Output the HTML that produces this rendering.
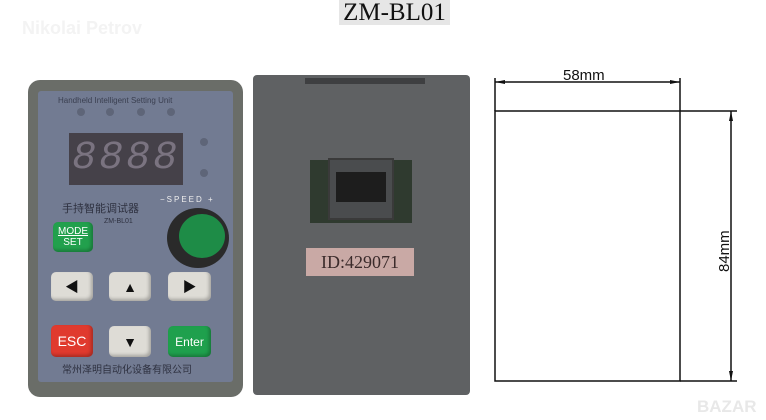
<!DOCTYPE html>
<html><head><style>
*{margin:0;padding:0;box-sizing:border-box}
body{width:766px;height:420px;background:#fff;position:relative;overflow:hidden;font-family:"Liberation Sans","Noto Sans CJK SC",sans-serif}
.a{position:absolute}
.btn{position:absolute;border-radius:5px;background:#dedcd6;box-shadow:inset -2px -2px 3px rgba(0,0,0,.25);display:flex;align-items:center;justify-content:center;font-size:14px;color:#111}
</style></head><body>
<div class="a" style="left:339px;top:0;width:111px;height:25px;background:#e6e6e6;font-family:'Liberation Serif',serif;font-size:25px;line-height:25px;text-align:center;color:#111">ZM-BL01</div>
<div class="a" style="left:22px;top:18px;font-size:18px;font-weight:bold;color:#f3f3f3">Nikolai Petrov</div>

<!-- left device -->
<div class="a" style="left:28px;top:80px;width:215px;height:317px;background:#6a6d68;border-radius:12px"></div>
<div class="a" style="left:38px;top:91px;width:195px;height:291px;background:#727b92;border-radius:3px"></div>
<div class="a" style="left:58px;top:96px;font-size:8px;color:#3a3f50">Handheld Intelligent Setting Unit</div>
<div class="a" style="left:77px;top:108px;width:8px;height:8px;border-radius:50%;background:#5e6578"></div>
<div class="a" style="left:106px;top:108px;width:8px;height:8px;border-radius:50%;background:#5e6578"></div>
<div class="a" style="left:137px;top:108px;width:8px;height:8px;border-radius:50%;background:#5e6578"></div>
<div class="a" style="left:167px;top:108px;width:8px;height:8px;border-radius:50%;background:#5e6578"></div>
<div class="a" style="left:200px;top:138px;width:8px;height:8px;border-radius:50%;background:#5e6578"></div>
<div class="a" style="left:200px;top:169px;width:8px;height:8px;border-radius:50%;background:#5e6578"></div>
<div class="a" style="left:69px;top:133px;width:114px;height:52px;background:#454149;color:#7a7380;font-family:'Liberation Mono',monospace;font-size:40px;line-height:52px;text-align:center;font-style:italic;letter-spacing:3px;overflow:hidden">8888</div>
<div class="a" style="left:62px;top:200px;font-size:11px;color:#2e3140">手持智能调试器</div>
<div class="a" style="left:104px;top:218px;font-size:7px;color:#2e3140">ZM-BL01</div>
<div class="a" style="left:160px;top:195px;font-size:8px;color:#eee;letter-spacing:2px">−SPEED +</div>
<div class="a" style="left:167px;top:208px;width:62px;height:60px;border-radius:50%;background:#2a2a2a"></div>
<div class="a" style="left:179px;top:214px;width:46px;height:44px;border-radius:50%;background:#1e8c47"></div>
<div class="btn" style="left:53px;top:222px;width:40px;height:30px;background:#22a04d;color:#fff;font-size:10px;line-height:11px;flex-direction:column"><span style="text-decoration:underline">MODE</span><span>SET</span></div>
<div class="btn" style="left:51px;top:272px;width:42px;height:29px">◀</div>
<div class="btn" style="left:109px;top:272px;width:42px;height:29px">▲</div>
<div class="btn" style="left:168px;top:272px;width:43px;height:29px">▶</div>
<div class="btn" style="left:51px;top:325px;width:42px;height:32px;background:#e03a2e;color:#fff">ESC</div>
<div class="btn" style="left:109px;top:326px;width:42px;height:31px">▼</div>
<div class="btn" style="left:168px;top:326px;width:43px;height:31px;background:#1fa04d;color:#fff;font-size:12px">Enter</div>
<div class="a" style="left:62px;top:361px;font-size:10px;color:#2e3140">常州泽明自动化设备有限公司</div>

<!-- right device -->
<div class="a" style="left:253px;top:75px;width:217px;height:320px;background:#5f6163;border-radius:4px"></div>
<div class="a" style="left:305px;top:78px;width:120px;height:6px;background:#3e3f41"></div>
<div class="a" style="left:310px;top:160px;width:102px;height:63px;background:#2f3a2f"></div>
<div class="a" style="left:328px;top:158px;width:66px;height:62px;background:#4a4c4e;border:2px solid #3a3a3a"></div>
<div class="a" style="left:336px;top:172px;width:50px;height:30px;background:#1d1d1d"></div>
<div class="a" style="left:306px;top:248px;width:108px;height:28px;background:#c9a9a5;font-family:'Liberation Serif',serif;font-size:18px;line-height:28px;text-align:center;color:#3b2b2b">ID:429071</div>

<!-- drawing -->
<svg class="a" style="left:0;top:0" width="766" height="420">
<g stroke="#111" stroke-width="1.5" fill="none">
<rect x="495" y="111" width="185" height="270"/>
<line x1="495" y1="78" x2="495" y2="111"/>
<line x1="680" y1="78" x2="680" y2="111"/>
<line x1="495" y1="82" x2="680" y2="82"/>
<line x1="680" y1="111" x2="737" y2="111"/>
<line x1="680" y1="381" x2="737" y2="381"/>
<line x1="731" y1="111" x2="731" y2="381"/>
</g>
<g fill="#111">
<polygon points="495,82 505,80 505,84"/><polygon points="680,82 670,80 670,84"/>
<polygon points="731,111 729,121 733,121"/><polygon points="731,381 729,371 733,371"/>
</g>
<text x="563" y="80" font-family="Liberation Sans" font-size="15" fill="#111">58mm</text>
<text transform="translate(729,272) rotate(-90)" font-family="Liberation Sans" font-size="15" fill="#111">84mm</text>
<text x="697" y="412" font-family="Liberation Sans" font-size="17" font-weight="bold" fill="#e8e8e8">BAZAR</text>
</svg>
</body></html>
